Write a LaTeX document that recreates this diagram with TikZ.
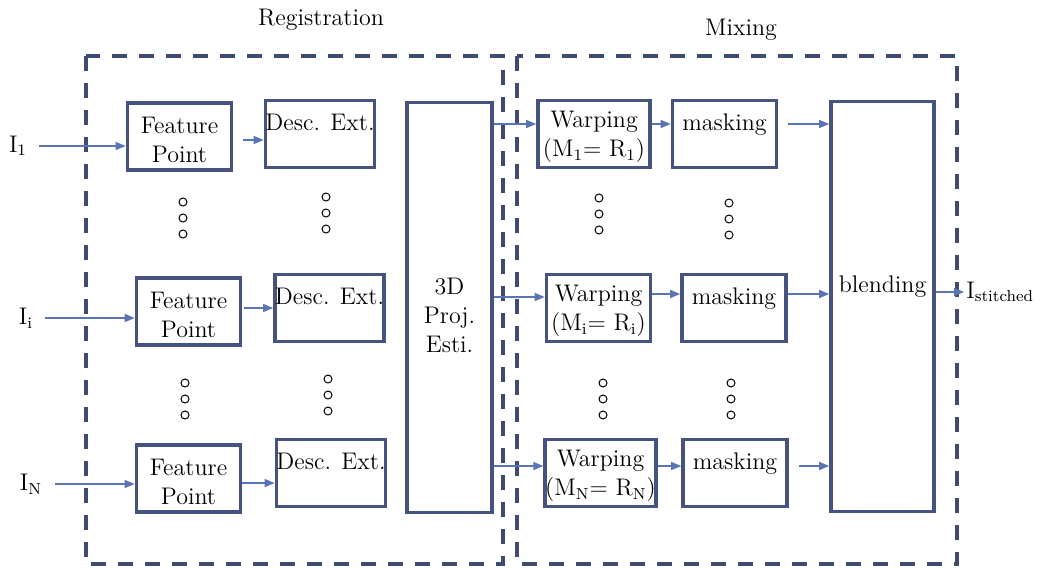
\documentclass[tikz,border=0pt]{standalone}
\usepackage{xcolor}
\usepackage{tikz}
\usetikzlibrary{arrows.meta}
\definecolor{boxblue}{HTML}{46527F}
\definecolor{dashblue}{HTML}{3F4A70}
\definecolor{arrblue}{HTML}{5B74B5}

\begin{document}
\begin{tikzpicture}[
    x=0.5pt, y=-0.5pt,
    txt/.style={font=\fontsize{12}{14.5}\selectfont, align=center, inner sep=0pt},
    box/.style={txt, rectangle, draw=boxblue, line width=1.8pt, minimum width=52pt, minimum height=33.5pt, text height=26pt},
    topbox/.style={box, text height=11pt, text depth=15pt},
    tall/.style={rectangle, draw=boxblue, line width=1.8pt, minimum height=205pt},
    arr/.style={-{Triangle[length=5pt, width=4pt]}, line width=0.6pt, arrblue},
    frame/.style={draw=dashblue, line width=2pt, dash pattern=on 7.5pt off 6pt},
    inp/.style={txt, inner sep=1pt},
    dot/.style={draw=black, line width=0.5pt},
  ]
    \useasboundingbox (0,0) rectangle (1052,567);
    \draw[frame] (86,56) rectangle (503,564);
    \draw[frame] (517,56) rectangle (957,564);
    \node[txt] (reg) at (321,20) {Registration};
    \node[txt] (mix) at (741,30) {Mixing};

    \node[box] (F1) at (179.5,136.5) {Feature\\Point};
    \node[topbox] (D1) at (320,134) {Desc. Ext.};
    \node[box] (Fi) at (188.5,311.5) {Feature\\Point};
    \node[topbox] (Di) at (329.5,308) {Desc. Ext.};
    \node[box] (FN) at (188.5,478.5) {Feature\\Point};
    \node[topbox] (DN) at (331,473) {Desc. Ext.};
    \node[tall, minimum width=42.5pt, label={[txt, yshift=-4pt]center:3D\\Proj.\\Esti.}] (P) at (449.5,307.5) {};
    \node[box, minimum width=56pt] (W1) at (594,134) {Warping\\(M\textsubscript{1}= R\textsubscript{1})};
    \node[topbox] (M1) at (724.5,134) {masking};
    \node[box] (Wi) at (598.5,308) {Warping\\(M\textsubscript{i}= R\textsubscript{i})};
    \node[topbox] (Mi) at (734,308) {masking};
    \node[box] (WN) at (600.5,473) {Warping\\(M\textsubscript{N}= R\textsubscript{N})};
    \node[topbox] (MN) at (735,473) {masking};
    \node[tall, minimum width=51.5pt, label={[txt, yshift=9.75pt]center:blending}] (B) at (882.5,306.5) {};

    \node[inp] (I1) at (18,146) {I\textsubscript{1}};
    \node[inp] (Ii) at (26,318) {I\textsubscript{i}};
    \node[inp] (IN) at (31,484) {I\textsubscript{N}};
    \node[inp, anchor=west] (O) at (964,292) {I\textsubscript{stitched}};

    \draw[arr, shorten <=5pt] (I1.east) -- (I1.east -| F1.west);
    \draw[arr, shorten <=5pt] (Ii.east) -- (Ii.east -| Fi.west);
    \draw[arr, shorten <=5pt] (IN.east) -- (IN.east -| FN.west);
    \draw[arr, shorten <=5pt] ([yshift=-1.75pt]F1.east) -- ([yshift=-1.75pt]F1.east -| D1.west);
    \draw[arr, shorten <=1pt] ([yshift=1.75pt]Fi.east) -- ([yshift=1.75pt]Fi.east -| Di.west);
    \draw[arr] ([yshift=-2.25pt]FN.east) -- ([yshift=-2.25pt]FN.east -| DN.west);

    \draw[arr] ([yshift=5pt]P.east |- W1.west) -- ([yshift=5pt]W1.west);
    \draw[arr] ([yshift=5.5pt]P.east |- Wi.west) -- ([yshift=5.5pt]Wi.west);
    \draw[arr] ([yshift=3.5pt]P.east |- WN.west) -- ([yshift=3.5pt]WN.west);
    \draw[arr] ([yshift=5pt]W1.east) -- ([yshift=5pt]M1.west);
    \draw[arr] ([yshift=7pt]Wi.east) -- ([yshift=7pt]Mi.west);
    \draw[arr] ([yshift=3.5pt]WN.east) -- ([yshift=3.5pt]MN.west);
    \draw[arr, shorten <=5pt] ([yshift=5pt]M1.east) -- ([yshift=5pt]M1.east -| B.west);
    \draw[arr] ([yshift=7pt]Mi.east) -- ([yshift=7pt]Mi.east -| B.west);
    \draw[arr, shorten <=5pt] ([yshift=3.5pt]MN.east) -- ([yshift=3.5pt]MN.east -| B.west);
    \draw[arr] (B.east |- O.west) -- (O.west);

    \foreach \x/\y in {183/202, 326/197, 185/383, 328/379, 599/198, 729/203, 603/383, 731/383}
      \foreach \k in {0,1,2}
        \draw[dot] (\x,\y+16*\k) circle[radius=2pt];
  \end{tikzpicture}
\end{document}
